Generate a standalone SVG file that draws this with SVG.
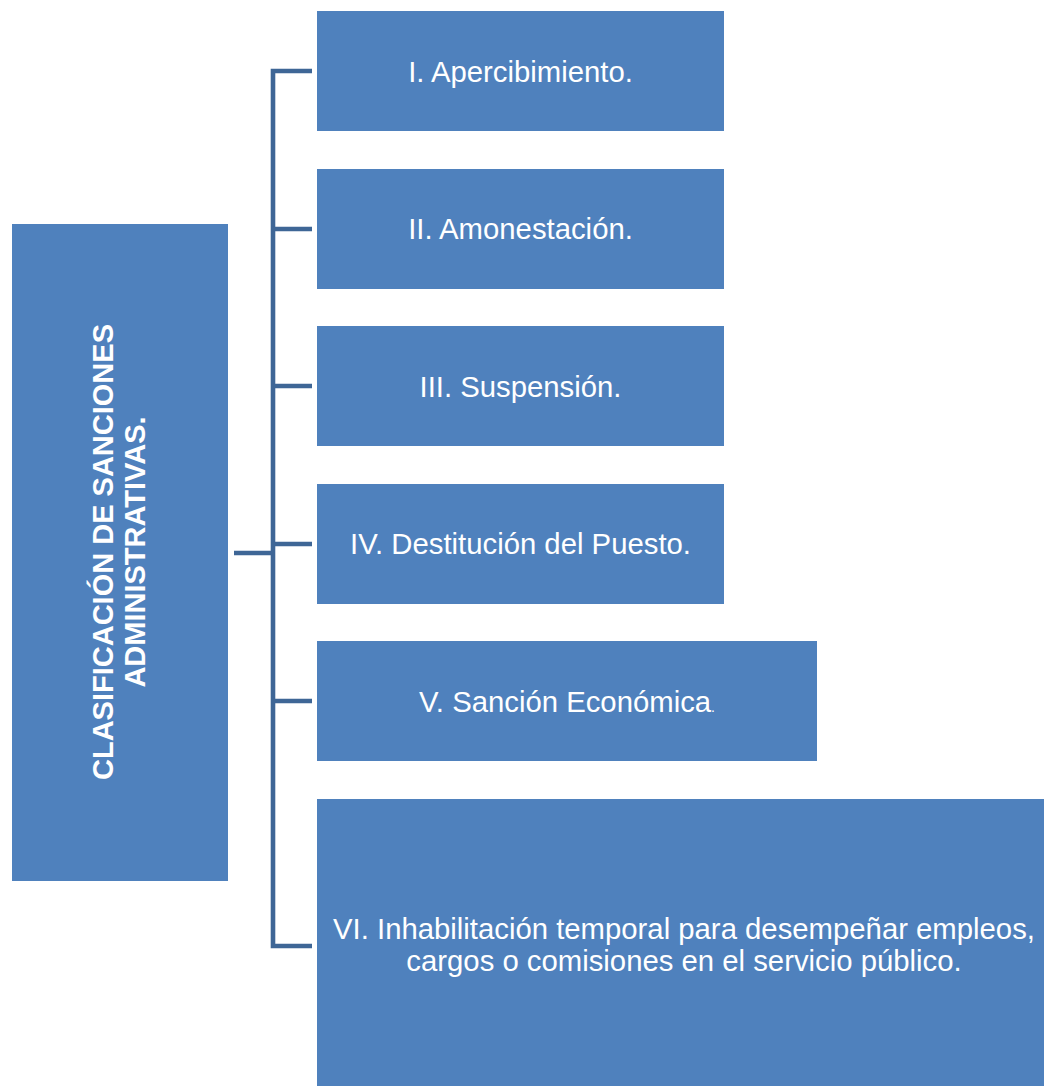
<svg xmlns="http://www.w3.org/2000/svg" width="1044" height="1086" viewBox="0 0 1044 1086">
<style>
.box{fill:#4F81BD;}
.t{fill:#FFFFFF;font-family:"Liberation Sans",Arial,sans-serif;font-size:29.3px;text-anchor:middle;}
.tb{fill:#FFFFFF;font-family:"Liberation Sans",Arial,sans-serif;font-size:29px;font-weight:bold;text-anchor:middle;}
.c{fill:none;stroke:#3E6696;stroke-width:4.6;stroke-linejoin:miter;}
</style>
<rect width="1044" height="1086" fill="#FFFFFF"/>
<g id="connectors">
<path class="c" d="M312 71 H273 V946 H312"/>
<path class="c" d="M273 229 H312 M273 386 H312 M273 544 H312 M273 701 H312"/>
<path class="c" d="M234 553 H273"/>
</g>
<g id="root">
<rect class="box" x="12" y="224" width="216" height="657"/>
<g transform="translate(0,552) rotate(-90)">
<text class="tb" x="0" y="113">CLASIFICACIÓN DE SANCIONES</text>
<text class="tb" x="0" y="145">ADMINISTRATIVAS.</text>
</g>
</g>
<g id="n1">
<rect class="box" x="317" y="11" width="407" height="120"/>
<text class="t" x="520.5" y="81.5">I. Apercibimiento.</text>
</g>
<g id="n2">
<rect class="box" x="317" y="169" width="407" height="120"/>
<text class="t" x="520.5" y="239">II. Amonestación.</text>
</g>
<g id="n3">
<rect class="box" x="317" y="326" width="407" height="120"/>
<text class="t" x="520.5" y="396.5">III. Suspensión.</text>
</g>
<g id="n4">
<rect class="box" x="317" y="484" width="407" height="120"/>
<text class="t" x="520.5" y="554">IV. Destitución del Puesto.</text>
</g>
<g id="n5">
<rect class="box" x="317" y="641" width="500" height="120"/>
<text class="t" x="567" y="711.5">V. Sanción Económica<tspan font-size="14">.</tspan></text>
</g>
<g id="n6">
<rect class="box" x="317" y="799" width="727" height="287"/>
<text class="t" x="684" y="939">VI. Inhabilitación temporal para desempeñar empleos,</text>
<text class="t" x="684" y="971">cargos o comisiones en el servicio público.</text>
</g>
</svg>
